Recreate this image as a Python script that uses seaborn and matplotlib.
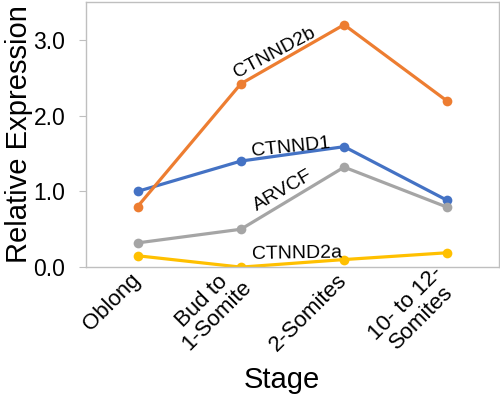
import pandas as pd
import matplotlib
matplotlib.use("Agg")
import matplotlib.pyplot as plt
import seaborn as sns

# data
stages = ["Oblong", "Bud to\n1-Somite", "2-Somites", "10- to 12-\nSomites"]
ctnnd2b = [0.80, 2.42, 3.20, 2.19]
ctnnd1 = [1.00, 1.40, 1.59, 0.88]
arvcf = [0.32, 0.50, 1.32, 0.79]
ctnnd2a = [0.15, 0.00, 0.10, 0.19]

genes = ["CTNND1", "CTNND2a", "ARVCF", "CTNND2b"]
colors = {"CTNND1": "#4472C4", "CTNND2a": "#FFC000",
          "ARVCF": "#A5A5A5", "CTNND2b": "#ED7D31"}

df = pd.DataFrame({
    "Stage": stages * 4,
    "Gene": [g for g in genes for _ in stages],
    "Expr": ctnnd1 + ctnnd2a + arvcf + ctnnd2b,
})

sns.set_style("white")
plt.rcParams["font.family"] = ["Liberation Sans", "DejaVu Sans"]
plt.rcParams["text.color"] = "black"
plt.rcParams["axes.labelcolor"] = "black"
plt.rcParams["xtick.color"] = "black"
plt.rcParams["ytick.color"] = "black"

fig = plt.figure(figsize=(5, 3.94), dpi=100)
ax = fig.add_axes([0.172, 0.322, 0.826, 0.673])

sns.lineplot(data=df, x="Stage", y="Expr", hue="Gene", palette=colors,
             marker="o", markersize=7, markeredgewidth=0, linewidth=2.3,
             legend=False, ax=ax)

ax.set_xlim(-0.5, 3.5)
ax.set_ylim(0, 3.5)
ax.set_yticks([0, 1, 2, 3])
ax.set_yticklabels(["0.0", "1.0", "2.0", "3.0"], fontsize=16.5)
ax.set_xticks(range(len(stages)))
ax.set_xticklabels(stages, fontsize=16, rotation=45, ha="right",
                   va="center", rotation_mode="anchor", multialignment="center",
                   linespacing=1.0)
ax.tick_params(axis="y", length=5, color="#bfbfbf", left=True, pad=10)
ax.tick_params(axis="x", length=0, pad=7)
ax.set_xlabel("Stage", fontsize=21, labelpad=5)
ax.xaxis.label.set_x(0.475)
ax.set_ylabel("Relative Expression", fontsize=21, labelpad=0.5)

for s in ax.spines.values():
    s.set_color("#bfbfbf")
    s.set_linewidth(1)

# inline series labels
ax.text(1.33, 2.83, "CTNND2b", fontsize=14, rotation=28, ha="center", va="center")
ax.text(1.48, 1.58, "CTNND1", fontsize=14, rotation=6, ha="center", va="center")
ax.text(1.41, 1.01, "ARVCF", fontsize=14, rotation=30, ha="center", va="center")
ax.text(1.54, 0.18, "CTNND2a", fontsize=14, rotation=1, ha="center", va="center")

fig.savefig("out.png", dpi=100)
